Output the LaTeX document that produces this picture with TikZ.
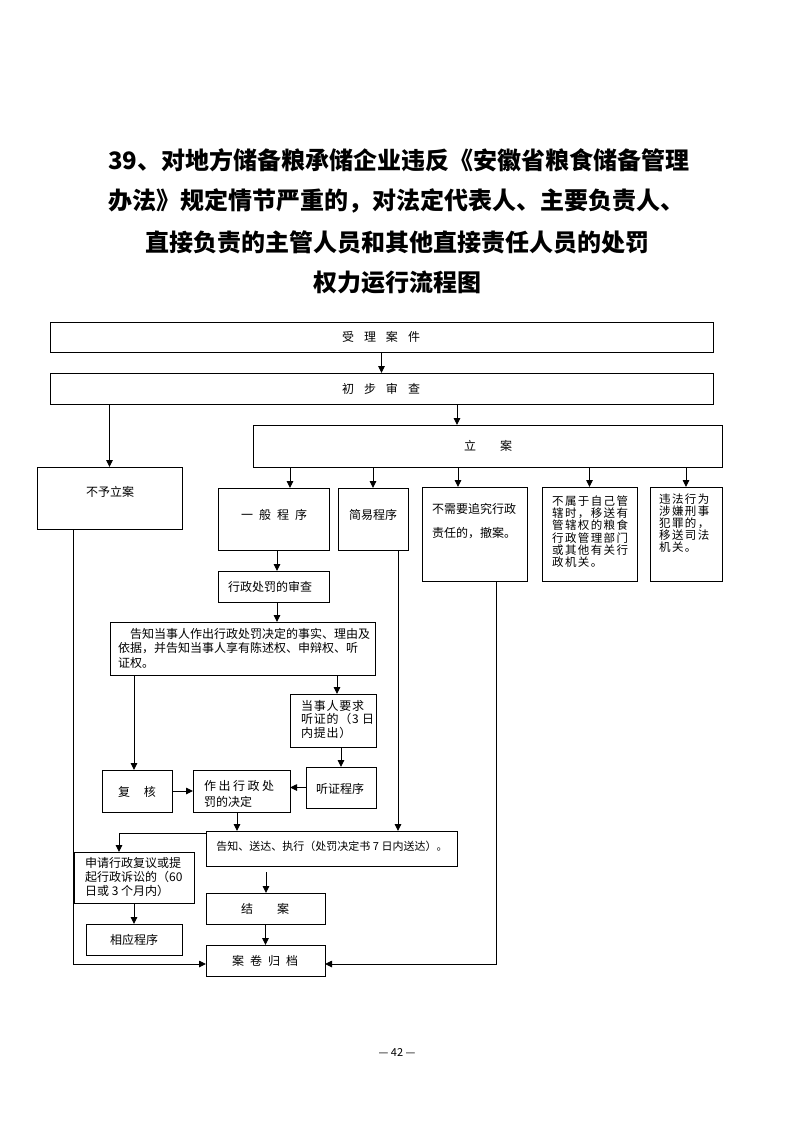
\documentclass[tikz,border=0pt]{standalone}
\usepackage{fontspec}
\setmainfont{Noto Sans CJK SC}
\usetikzlibrary{arrows.meta,calc}
\tikzset{
  box/.style={draw, line width=0.9pt, inner sep=0pt, outer sep=0pt},
  arr/.style={line width=0.9pt, -{Triangle[length=7pt,width=6.5pt]}},
  lbl/.style={inner sep=0pt, font=\fontsize{12}{14}\selectfont},
  lblL/.style={inner sep=0pt, align=left, anchor=north west},
  ttl/.style={inner sep=0pt, font=\fontsize{24}{28}\selectfont\bfseries},
}
\newcommand\bx[5]{\node[box, minimum width={(#4-#2)*1pt}, minimum height={(#5-#3)*1pt}] (#1) at ({(#2+#4)/2},{(#3+#5)/2}) {};}
\begin{document}
\begin{tikzpicture}[x=1pt,y=-1pt]
\fill[white] (0,0) rectangle (793,1122);
\useasboundingbox (0,0) rectangle (793,1122);

% title
\node[ttl, anchor=west] (title1) at (108,160) {39、对地方储备粮承储企业违反《安徽省粮食储备管理};
\node[ttl, anchor=west] (title2) at (108,201) {办法》规定情节严重的，对法定代表人、主要负责人、};
\node[ttl] (title3) at (397,242) {直接负责的主管人员和其他直接责任人员的处罚};
\node[ttl] (title4) at (397,283) {权力运行流程图};

% boxes
\bx{accept}{50}{322}{713}{352}
\bx{prelim}{50}{373}{713}{404}
\bx{lian}{253}{425}{722}{467}
\bx{buyu}{37}{467}{182}{529}
\bx{yiban}{218}{488}{329}{550}
\bx{jianyi}{338}{488}{408}{550}
\bx{chean}{422}{487}{527}{581}
\bx{yisong}{542}{487}{637}{581}
\bx{sifa}{650}{487}{722}{581}
\bx{shencha}{218}{571}{329}{602}
\bx{gaozhi}{110}{622}{375}{675}
\bx{tingzhengq}{290}{694}{376}{747}
\bx{fuhe}{102}{770}{172}{812}
\bx{jueding}{193}{770}{290}{812}
\bx{tingzheng}{306}{767}{376}{808}
\bx{songda}{206}{831}{457}{866}
\bx{fuyi}{74}{852}{194}{903}
\bx{xiangying}{86}{924}{182}{955}
\bx{jiean}{206}{893}{325}{924}
\bx{guidang}{206}{945}{325}{976}

% texts
\node[lbl] (t-accept) at (381,337) {受\hskip10pt理\hskip10pt案\hskip10pt件};
\node[lbl] (t-prelim) at (381,389) {初\hskip10pt步\hskip10pt审\hskip10pt查};
\node[lbl] (t-lian) at (488,446) {立\hskip24pt案};
\node[lbl] (t-buyu) at (110,492) {不予立案};
\node[lbl] (t-yiban) at (274,515) {一\hskip6pt般\hskip6pt程\hskip6pt序};
\node[lbl] (t-jianyi) at (373,515) {简易程序};
\node[lblL, font=\fontsize{12}{24}\selectfont] (t-chean) at (432,503) {不需要追究行政\\责任的，撤案。};
\node[lblL, font={\fontsize{11.5}{12.2}\selectfont\addfontfeatures{LetterSpace=12}}] (t-yisong) at (552,495.5) {不属于自己管\\辖时，移送有\\管辖权的粮食\\行政管理部门\\或其他有关行\\政机关。};
\node[lblL, font={\fontsize{11.5}{12}\selectfont\addfontfeatures{LetterSpace=12}}] (t-sifa) at (659,493.5) {违法行为\\涉嫌刑事\\犯罪的，\\移送司法\\机关。};
\node[lbl] (t-shencha) at (270,587) {行政处罚的审查};
\node[lblL, font=\fontsize{12}{14.5}\selectfont] (t-gaozhi) at (118,628) {\hspace*{12pt}告知当事人作出行政处罚决定的事实、理由及\\依据，并告知当事人享有陈述权、申辩权、听\\证权。};
\node[lblL, font={\fontsize{12}{13.5}\selectfont\addfontfeatures{LetterSpace=6}}] (t-tzq) at (301,700) {当事人要求\\听证的（3 日\\内提出）};
\node[lbl] (t-fuhe) at (137,792) {复\hskip14pt核};
\node[lblL, font=\fontsize{12}{16}\selectfont] (t-jueding) at (204,780) {作\hskip2.5pt出\hskip2.5pt行\hskip2.5pt政\hskip2.5pt处\\罚的决定};
\node[lbl] (t-tingzheng) at (340,789) {听证程序};
\node[lbl, font=\fontsize{11}{13}\selectfont] (t-songda) at (332,846) {告知、送达、执行（处罚决定书 7 日内送达）。};
\node[lblL, font=\fontsize{12}{14}\selectfont] (t-fuyi) at (85,857) {申请行政复议或提\\起行政诉讼的（60\\日或 3 个月内）};
\node[lbl] (t-xiangying) at (134,940) {相应程序};
\node[lbl] (t-jiean) at (265,909) {结\hskip24pt案};
\node[lbl] (t-guidang) at (265,961) {案\hskip6pt卷\hskip6pt归\hskip6pt档};
\node[inner sep=0pt, font=\fontsize{11}{13}\selectfont] (pageno) at (397,1052) {— 42 —};

% helper coordinates
\coordinate (xL) at (457,0);
\coordinate (xY) at (290,0);
\coordinate (xC) at (458,0);
\coordinate (xS) at (277,0);
\coordinate (xF) at (134,0);
\coordinate (xT) at (337,0);
\coordinate (xT2) at (341,0);
\coordinate (xJ) at (237,0);
\coordinate (xK) at (398,0);
\coordinate (xG) at (119,0);
\coordinate (yG) at (0,833);
\coordinate (xE) at (266,0);
\coordinate (xB) at (73,0);
\coordinate (xN) at (496,0);
\coordinate (yH) at (0,964);
\path (songda.south -| xE) ++(0,6) coordinate (jstart);

% connectors
\draw[arr] (accept.south) -- (prelim.north);
\draw[arr] (prelim.south -| buyu.north) -- (buyu.north);
\draw[arr] (prelim.south -| xL) -- (lian.north -| xL);
\draw[arr] (lian.south -| xY) -- (yiban.north -| xY);
\draw[arr] (lian.south -| jianyi.north) -- (jianyi.north);
\draw[arr] (lian.south -| xC) -- (chean.north -| xC);
\draw[arr] (lian.south -| yisong.north) -- (yisong.north);
\draw[arr] (lian.south -| sifa.north) -- (sifa.north);
\draw[arr] (yiban.south -| xS) -- (shencha.north -| xS);
\draw[arr] (shencha.south -| xS) -- (gaozhi.north -| xS);
\draw[arr] (gaozhi.south -| xF) -- (fuhe.north -| xF);
\draw[arr] (gaozhi.south -| xT) -- (tingzhengq.north -| xT);
\draw[arr] (tingzhengq.south -| xT2) -- (tingzheng.north -| xT2);
\draw[arr] (fuhe.east) -- (jueding.west);
\draw[arr] (tingzheng.west) -- (jueding.east |- tingzheng.west);
\draw[arr] (jueding.south -| xJ) -- (songda.north -| xJ);
\draw[arr] (jianyi.south -| xK) -- (songda.north -| xK);
\draw[arr] (songda.north west |- yG) -| (fuyi.north -| xG);
\draw[arr] (fuyi.south -| xF) -- (xiangying.north -| xF);
\draw[arr] (jstart) -- (jiean.north -| xE);
\draw[arr] (jiean.south) -- (guidang.north);
\draw[arr] (buyu.south -| xB) |- (guidang.west |- yH);
\draw[arr] (chean.south -| xN) |- (guidang.east |- yH);
\end{tikzpicture}
\end{document}
